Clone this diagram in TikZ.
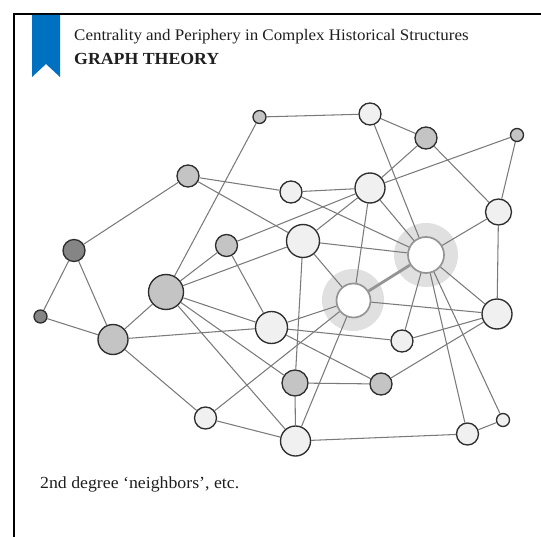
\documentclass[tikz,border=0pt]{standalone}
\usepackage{fontspec}
\setmainfont[FakeStretch=1.05]{Liberation Serif}
\definecolor{ribbon}{HTML}{0070C0}
\definecolor{nlight}{HTML}{F0F0F0}
\definecolor{nmid}{HTML}{C4C4C4}
\definecolor{ndark}{HTML}{858585}
\definecolor{halo}{HTML}{E0E0E0}
\definecolor{edgec}{HTML}{7A7A7A}
\tikzset{
  gnode/.style={circle,draw=black!82,line width=1.35bp,inner sep=0pt,minimum size=#1},
  lightn/.style={gnode=#1,fill=nlight},
  midn/.style={gnode=#1,fill=nmid},
  darkn/.style={gnode=#1,fill=ndark},
  focusn/.style={circle,draw=black!42,line width=1.7bp,fill=white,inner sep=0pt,minimum size=#1},
  halon/.style={circle,fill=halo,inner sep=0pt,minimum size=#1},
  edgeline/.style={draw=edgec,line width=1.05bp},
  strongedge/.style={draw=black!42,line width=2.8bp},
  frameline/.style={draw=black,line width=2bp},
  lab/.style={inner sep=0pt,anchor=base west,text=black!88}
}
\begin{document}
\begin{tikzpicture}[x=1bp,y=-1bp]
\useasboundingbox (0,0) rectangle (541,537);
\draw[frameline] (13.5,537) -- (13.5,14.5) -- (541,14.5);
\fill[ribbon] (32,15) -- (60,15) -- (60,77) -- (46,64) -- (32,77) -- cycle;
\node[lab,font=\fontsize{16.2}{18}\selectfont] (title) at (74,41) {Centrality and Periphery in Complex Historical Structures};
\node[lab,font=\fontsize{17}{19}\selectfont\bfseries] (head) at (74,65) {GRAPH THEORY};
\node[lab,font=\fontsize{17}{19}\selectfont] (cap) at (40,488.5) {2nd degree ‘neighbors’, etc.};
% halos
\node[halon=64bp] (hl) at (426,255) {};
\node[halon=62bp] (hn) at (353,300) {};
% nodes
\node[midn=13bp] (a) at (259.5,117) {};
\node[lightn=22bp] (b) at (370,114) {};
\node[midn=22bp] (c) at (426,138) {};
\node[midn=13bp] (d) at (517,135) {};
\node[midn=22bp] (e) at (188,176) {};
\node[lightn=22bp] (f) at (291,192) {};
\node[lightn=30bp] (g) at (370,188) {};
\node[lightn=26bp] (h) at (498.5,212) {};
\node[darkn=22bp] (i) at (74,250.5) {};
\node[midn=22bp] (j) at (226.5,245.5) {};
\node[lightn=33bp] (k) at (303,241) {};
\node[focusn=36bp] (l) at (426,255) {};
\node[midn=35bp] (m) at (166,292) {};
\node[focusn=34bp] (n) at (353.5,300.5) {};
\node[darkn=13bp] (o) at (40.5,316.5) {};
\node[midn=30bp] (p) at (113,339.5) {};
\node[lightn=32bp] (q) at (271.5,327.5) {};
\node[lightn=30bp] (r) at (497,314) {};
\node[lightn=22bp] (s) at (402,341) {};
\node[midn=26bp] (t) at (295,383) {};
\node[midn=22bp] (u) at (381,384) {};
\node[lightn=22bp] (v) at (205.5,418) {};
\node[lightn=30bp] (w) at (295.5,441) {};
\node[lightn=22bp] (x) at (467.5,434) {};
\node[lightn=13bp] (y) at (503,420) {};
% edges
\foreach \u/\v in {a/b,a/m,b/c,b/l,c/g,c/h,d/g,d/h,e/i,e/f,e/k,f/g,f/l,g/j,g/k,g/n,g/l,h/l,h/r,
  k/l,k/n,k/m,k/t,j/m,j/q,i/o,i/p,o/p,p/m,p/q,p/v,m/q,m/t,m/w,q/n,q/s,q/u,n/v,n/w,n/r,
  l/s,l/r,l/x,l/y,r/s,r/u,t/u,t/w,v/w,w/x,x/y}
  \draw[edgeline] (\u) -- (\v);
\draw[strongedge] (n) -- (l);
\end{tikzpicture}
\end{document}
